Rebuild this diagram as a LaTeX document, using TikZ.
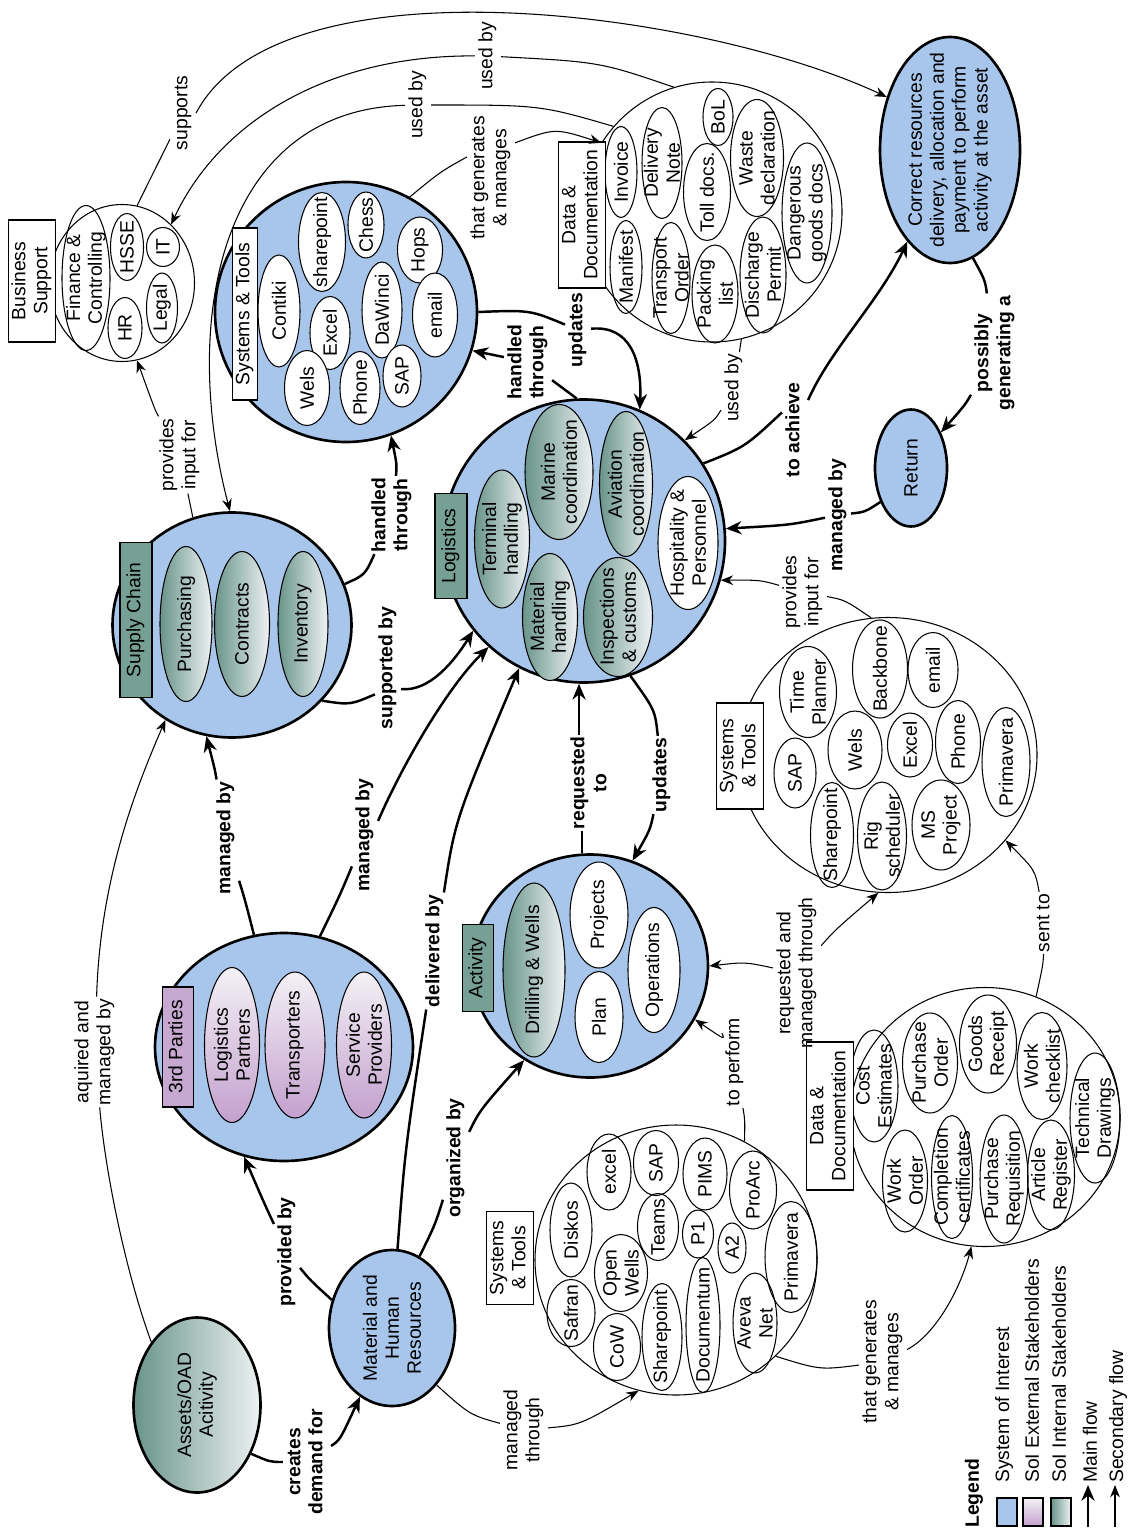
\documentclass[tikz,border=0pt]{standalone}
\usepackage{fontspec}
\setmainfont{Liberation Sans}
\usepackage{graphicx}
\usetikzlibrary{shapes.geometric,arrows.meta}

\definecolor{blueF}{RGB}{168,198,236}
\definecolor{gdark}{RGB}{104,148,138}
\definecolor{glight}{RGB}{238,242,242}
\definecolor{plight}{RGB}{243,241,245}
\definecolor{pdark}{RGB}{196,160,206}
\definecolor{gtag}{RGB}{118,160,148}
\definecolor{ptag}{RGB}{198,168,208}

\newcommand\pxu{0.02cm}
\newcommand\rtx[1]{\rotatebox{90}{\begin{tabular}{@{}c@{}}#1\end{tabular}}}
% container shape without text: name, x, y, width, height, style
\newcommand\hold[6]{\node[#6,minimum width=#4*\pxu,minimum height=#5*\pxu] (#1) at (#2,#3) {};}
% oval with upright-reading (rotated) text
\newcommand\bub[7]{\node[#6,minimum width=#4*\pxu,minimum height=#5*\pxu] (#1) at (#2,#3) {};
  \node[tx] (#1-t) at (#1.center) {#7};}
% title box
\newcommand\tagx[7]{\node[#6,minimum width=#4*\pxu,minimum height=#5*\pxu] (#1) at (#2,#3) {\rtx{#7}};}
% connector label
\newcommand\clab[5]{\node[#4] (#1) at (#2,#3) {\rtx{#5}};}

\tikzset{
  main/.style={ellipse, draw, line width=1.5pt, fill=blueF, inner sep=0pt},
  mainG/.style={ellipse, draw, line width=1.5pt, left color=gdark, right color=glight, inner sep=0pt},
  cont/.style={ellipse, draw, line width=0.6pt, fill=white, inner sep=0pt},
  sub/.style={ellipse, draw, line width=0.6pt, inner sep=0pt},
  subg/.style={sub, left color=gdark, right color=glight},
  subp/.style={sub, top color=plight, bottom color=pdark},
  subw/.style={sub, fill=white},
  subo/.style={sub},
  tx/.style={rotate=90, align=center, inner sep=0pt},
  tag/.style={draw, line width=0.8pt, fill=white, inner sep=1pt},
  tagg/.style={tag, fill=gtag},
  tagp/.style={tag, fill=ptag},
  lab/.style={inner sep=1pt},
  labb/.style={inner sep=1pt, font=\fontsize{11}{12.5}\selectfont\bfseries},
  thn/.style={line width=0.6pt},
  thk/.style={line width=1.4pt},
  thnarr/.style={thn, -{Stealth[length=7pt,width=5.5pt]}},
  thkarr/.style={thk, -{Stealth[length=9pt,width=7.5pt]}},
}

\begin{document}
\begin{tikzpicture}[x=0.02cm, y=-0.02cm, font=\fontsize{11}{12.5}\selectfont]
\path[fill=white] (0,0) rectangle (1130,1530);
\useasboundingbox (0,0) rectangle (1130,1530);

% ---------- Business Support ----------
\hold{bs}{122}{283}{145}{157}{cont}
\bub{fc}{86}{278}{48}{145}{subo}{Finance \&\\Controlling}
\bub{hsse}{127}{247}{33}{67}{subo}{HSSE}
\bub{hr}{125}{328}{34}{61}{subo}{HR}
\bub{it}{163}{247}{33}{39}{subo}{IT}
\bub{legal}{162}{308}{31}{70}{subo}{Legal}
\tagx{bsl}{32}{281}{39}{122}{tag}{Business\\Support}

% ---------- Systems & Tools (logistics) ----------
\hold{stb}{346}{312}{262}{260}{main}
\bub{contiki}{279}{311}{42}{112}{subw}{Contiki}
\bub{shp}{322}{242}{47}{99}{subw}{sharepoint}
\bub{excelA}{330}{333}{40}{73}{subw}{Excel}
\bub{chess}{366}{225}{36}{66}{subw}{Chess}
\bub{welsA}{307}{388}{45}{75}{subw}{Wels}
\bub{phoneA}{360}{388}{40}{73}{subw}{Phone}
\bub{dawinci}{382}{310}{40}{96}{subw}{DaWinci}
\bub{hops}{420}{250}{45}{66}{subw}{Hops}
\bub{emailA}{435}{315}{45}{84}{subw}{email}
\bub{sapA}{402}{376}{38}{62}{subw}{SAP}
\tagx{stbl}{245}{314}{25}{172}{tag}{Systems \& Tools}

% ---------- Data & Documentation (logistics) ----------
\hold{dd1}{712}{212}{260}{260}{cont}
\bub{invoice}{621}{172}{32}{91}{subo}{Invoice}
\bub{manifest}{626}{267}{32}{93}{subo}{Manifest}
\bub{delnote}{662}{163}{40}{111}{subo}{Delivery\\Note}
\bub{transord}{671}{278}{38}{111}{subo}{Transport\\Order}
\bub{toll}{707}{192}{47}{97}{subo}{Toll docs.}
\bub{bol}{718}{117}{30}{57}{subo}{BoL}
\bub{packing}{715}{294}{46}{98}{subo}{Packing\\list}
\bub{waste}{757}{158}{53}{117}{subo}{Waste\\declaration}
\bub{discharge}{763}{275}{46}{116}{subo}{Discharge\\Permit}
\bub{dgd}{807}{213}{50}{140}{subo}{Dangerous\\goods docs}
\tagx{ddAl}{582}{215}{40}{146}{tag}{Data \&\\Documentation}

% ---------- Goal and return ----------
\bub{cr}{950}{150}{140}{226}{main}{Correct resources\\delivery, allocation and\\payment to perform\\activity at the asset}
\bub{ret}{911}{468}{72}{117}{main}{Return}

% ---------- Supply Chain ----------
\hold{sc}{232}{625}{239}{225}{main}
\bub{purch}{186}{624}{52}{155}{subg}{Purchasing}
\bub{contr}{242}{624}{55}{145}{subg}{Contracts}
\bub{inv}{303}{624}{50}{145}{subg}{Inventory}
\tagx{scl}{136}{620}{32}{155}{tagg}{Supply Chain}

% ---------- Logistics ----------
\hold{log}{584}{541}{282}{283}{main}
\bub{term}{502}{539}{55}{138}{subg}{Terminal\\handling}
\bub{marine}{559}{472}{68}{135}{subg}{Marine\\coordination}
\bub{mat}{550}{617}{55}{127}{subg}{Material\\handling}
\bub{avi}{626}{484}{53}{145}{subg}{Aviation\\coordination}
\bub{insp}{618}{617}{69}{119}{subg}{Inspections\\\& customs}
\bub{hosp}{688}{543}{60}{133}{subw}{Hospitality \&\\Personnel}
\tagx{logl}{451}{546}{32}{105}{tagg}{Logistics}

% ---------- 3rd Parties ----------
\hold{tp}{284}{1047}{258}{228}{main}
\bub{lp}{232}{1045}{55}{155}{subp}{Logistics\\Partners}
\bub{trans}{295}{1045}{60}{146}{subp}{Transporters}
\bub{sp}{364}{1045}{55}{146}{subp}{Service\\Providers}
\tagx{tpl}{178}{1047}{31}{120}{tagp}{3rd Parties}

% ---------- Activity ----------
\hold{act}{590}{966}{236}{223}{main}
\bub{dw}{534}{970}{62}{174}{subg}{Drilling \& Wells}
\bub{proj}{599}{915}{58}{106}{subw}{Projects}
\bub{plan}{599}{1017}{48}{91}{subw}{Plan}
\bub{ops}{654}{970}{52}{125}{subw}{Operations}
\tagx{actl}{478}{968}{31}{87}{tagg}{Activity}

% ---------- Systems & Tools (planning) ----------
\hold{stw}{888}{755}{298}{275}{cont}
\bub{sapB}{795}{773}{42}{70}{subo}{SAP}
\bub{tplan}{808}{692}{57}{91}{subo}{Time\\Planner}
\bub{welsB}{855}{750}{54}{78}{subo}{Wels}
\bub{backb}{880}{669}{55}{98}{subo}{Backbone}
\bub{shpB}{832}{835}{43}{105}{subo}{Sharepoint}
\bub{rig}{882}{836}{49}{108}{subo}{Rig\\scheduler}
\bub{excelB}{910}{745}{45}{64}{subo}{Excel}
\bub{emailB}{933}{670}{50}{75}{subo}{email}
\bub{msp}{941}{825}{58}{90}{subo}{MS\\Project}
\bub{phoneB}{958}{742}{45}{83}{subo}{Phone}
\bub{primA}{1006}{762}{48}{109}{subo}{Primavera}
\tagx{stwl}{740}{756}{44}{106}{tag}{Systems\\\& Tools}

% ---------- Data & Documentation (planning) ----------
\hold{dd2}{985}{1117}{270}{259}{cont}
\bub{cost}{874}{1086}{48}{112}{subo}{Cost\\Estimates}
\bub{po}{930}{1063}{55}{100}{subo}{Purchase\\Order}
\bub{gr}{988}{1044}{57}{98}{subo}{Goods\\Receipt}
\bub{wc}{1042}{1066}{50}{107}{subo}{Work\\checklist}
\bub{td}{1095}{1118}{50}{130}{subo}{Technical\\Drawings}
\bub{wo}{905}{1181}{45}{102}{subo}{Work\\Order}
\bub{cc}{952}{1177}{41}{123}{subo}{Completion\\certificates}
\bub{pr}{1004}{1179}{48}{128}{subo}{Purchase\\Requisition}
\bub{ar}{1051}{1175}{47}{110}{subo}{Article\\Register}
\tagx{ddBl}{830}{1116}{40}{148}{tag}{Data \&\\Documentation}

% ---------- Origin of demand ----------
\bub{ast}{197}{1405}{127}{175}{mainG}{Assets/OAD\\Acitivity}
\bub{mhr}{392}{1328}{126}{156}{main}{Material and\\Human\\Resources}

% ---------- Systems & Tools (activity) ----------
\hold{stbot}{676}{1260}{282}{270}{cont}
\bub{safran}{571}{1313}{48}{67}{subo}{Safran}
\bub{diskos}{571}{1230}{42}{94}{subo}{Diskos}
\bub{excelC}{609}{1172}{44}{76}{subo}{excel}
\bub{cow}{617}{1347}{47}{67}{subo}{CoW}
\bub{openw}{621}{1273}{53}{77}{subo}{Open\\Wells}
\bub{sapC}{656}{1163}{45}{65}{subo}{SAP}
\bub{teams}{658}{1227}{41}{67}{subo}{Teams}
\bub{shpC}{662}{1337}{40}{107}{subo}{Sharepoint}
\bub{pone}{698}{1234}{31}{48}{subo}{P1}
\bub{pims}{705}{1174}{44}{72}{subo}{PIMS}
\bub{docum}{703}{1325}{34}{135}{subo}{Documentum}
\bub{atwo}{732}{1248}{28}{50}{subo}{A2}
\bub{proarc}{753}{1190}{47}{78}{subo}{ProArc}
\bub{aveva}{755}{1323}{44}{100}{subo}{Aveva\\Net}
\bub{primB}{791}{1257}{52}{111}{subo}{Primavera}
\tagx{stbotl}{510}{1258}{46}{93}{tag}{Systems\\\& Tools}

% ---------- connector labels ----------
\clab{l1}{183}{113}{lab}{supports}
\clab{l2}{488}{56}{lab}{used by}
\clab{l3}{418}{105}{lab}{used by}
\clab{l4}{491}{178}{lab}{that generates\\\& manages}
\clab{l5}{578}{330}{labb}{updates}
\clab{l6}{528}{362}{labb}{handled\\through}
\clab{l7}{734}{388}{lab}{used by}
\clab{l8}{180}{455}{lab}{provides\\input for}
\clab{l9}{392}{515}{labb}{handled\\through}
\clab{l10}{388}{668}{labb}{supported by}
\clab{l11}{795}{430}{labb}{to achieve}
\clab{l12}{995}{353}{labb}{possibly\\generating a}
\clab{l13}{838}{515}{labb}{managed by}
\clab{l14}{803}{592}{lab}{provides\\input for}
\clab{l15}{226}{838}{labb}{managed by}
\clab{l16}{365}{835}{labb}{managed by}
\clab{l17}{95}{1052}{lab}{aquired and\\managed by}
\clab{l18}{435}{951}{labb}{delivered by}
\clab{l19}{591}{783}{labb}{requested\\to}
\clab{l20}{662}{775}{labb}{updates}
\clab{l21}{797}{973}{lab}{requested and\\managed through}
\clab{l22}{735}{1062}{lab}{to perform}
\clab{l23}{456}{1158}{labb}{organized by}
\clab{l24}{287}{1252}{labb}{provided by}
\clab{l25}{307}{1462}{labb}{creates\\demand for}
\clab{l26}{524}{1430}{lab}{managed\\through}
\clab{l27}{883}{1362}{lab}{that generates\\\& manages}
\clab{l28}{1045}{923}{lab}{sent to}

% ---------- connectors ----------
\draw[thn] (bs.79) -- (l1);
\draw[thnarr] (l1.east) .. controls (280,-45) and (700,10) .. (cr.140);

\draw[thn] (dd1.107) .. controls (600,62) .. (l2);
\draw[thnarr] (l2) .. controls (330,55) and (220,120) .. (bs.50);

\draw[thn] (dd1.139) .. controls (540,105) .. (l3);
\draw[thnarr] (l3) .. controls (220,110) and (180,320) .. (sc.91);

\draw[thn] (stb.61) .. controls (440,172) .. ([yshift=12pt]l4.west);
\draw[thnarr] ([yshift=20pt]l4.east) .. controls (555,128) .. (dd1.148);

\draw[thk] (stb.0) .. controls (530,310) .. (l5);
\draw[thkarr] (l5) .. controls (630,325) and (642,360) .. (log.67);

\draw[thk] (log.93) .. controls (565,390) .. (l6);
\draw[thkarr] (l6) -- (stb.343);

\draw[thn] (dd1.283) -- (l7);
\draw[thnarr] (l7) .. controls (715,420) .. (log.45);

\draw[thn] (sc.110) -- (l8);
\draw[thnarr] (l8) .. controls (155,410) .. (bs.281);

\draw[thk] (sc.20) .. controls (365,575) .. (l9);
\draw[thkarr] (l9) .. controls (397,465) .. (stb.290);

\draw[thk] (sc.320) .. controls (350,705) .. ([yshift=-15pt]l10.west);
\draw[thkarr] ([yshift=-12pt]l10.east) .. controls (430,692) and (455,660) .. (log.219);

\draw[thk] (log.33) .. controls (745,447) .. ([yshift=10pt]l11.west);
\draw[thkarr] (l11) .. controls (830,350) and (880,300) .. (cr.245);

\draw[thk] (cr.282) .. controls (985,280) .. (l12);
\draw[thkarr] (l12) .. controls (965,405) .. (ret.50);

\draw[thk] (ret.228) .. controls (865,512) .. (l13);
\draw[thkarr] (l13) .. controls (790,525) .. (log.5);

\draw[thn] (stw.97) .. controls (845,600) .. (l14);
\draw[thnarr] (l14) .. controls (760,580) .. (log.344);

\draw[thk] (tp.105) .. controls (245,900) .. (l15);
\draw[thkarr] (l15) .. controls (215,770) .. (sc.257);

\draw[thk] (tp.72) .. controls (340,895) .. (l16);
\draw[thkarr] ([yshift=8pt]l16.east) .. controls (400,770) and (445,690) .. (log.228);

\draw[thn] (ast.126) .. controls (125,1270) and (105,1170) .. (l17);
\draw[thnarr] (l17) .. controls (100,880) and (135,790) .. (sc.235);

\draw[thk] (mhr.86) .. controls (405,1150) .. (l18);
\draw[thkarr] (l18) .. controls (455,820) .. (log.243);

\draw[thk] (act.94) -- (act.94 |- l19.south);
\draw[thkarr] (log.268 |- l19.north) -- (log.268);

\draw[thk] (log.289) .. controls (655,710) .. (l20);
\draw[thkarr] (l20) .. controls (650,830) .. (act.68);

\draw[thnarr] (l21) .. controls (745,962) .. (act.0);
\draw[thnarr] (l21) .. controls (835,930) .. (stw.266);

\draw[thn] (stbot.60) .. controls (745,1120) .. (l22);
\draw[thnarr] (l22) .. controls (725,1040) .. (act.333);

\draw[thk] (mhr.69) .. controls (435,1225) .. (l23);
\draw[thkarr] (l23) .. controls (480,1110) .. (act.235);

\draw[thk] (mhr.155) .. controls (310,1280) .. (l24);
\draw[thkarr] (l24) .. controls (265,1205) .. (tp.250);

\draw[thk] (ast.318) .. controls (270,1462) .. (l25);
\draw[thkarr] (l25) .. controls (340,1440) .. (mhr.245);

\draw[thn] (mhr.308) .. controls (470,1415) .. (l26);
\draw[thnarr] (l26) .. controls (580,1425) .. (stbot.254);

\draw[thn] (stbot.316) .. controls (820,1370) .. (l27);
\draw[thnarr] (l27) .. controls (935,1335) and (960,1290) .. (dd2.264);

\draw[thn] (dd2.67) .. controls (1043,965) .. (l28);
\draw[thnarr] (l28) .. controls (1035,870) .. (stw.324);

% ---------- legend ----------
\node[anchor=south, inner sep=0pt, font=\fontsize{11}{12.5}\selectfont\bfseries] (lgt) at (974,1528) {\rotatebox{90}{Legend}};
\node[draw, line width=0.8pt, fill=blueF, minimum width=20*\pxu, minimum height=28*\pxu, inner sep=0pt] (lgA) at (1007,1512) {};
\node[draw, line width=0.8pt, top color=plight, bottom color=pdark, minimum width=20*\pxu, minimum height=28*\pxu, inner sep=0pt] (lgB) at (1033,1512) {};
\node[draw, line width=0.8pt, left color=gdark, right color=glight, minimum width=20*\pxu, minimum height=28*\pxu, inner sep=0pt] (lgC) at (1061,1512) {};
\coordinate (lgM1) at (1088,1527);
\coordinate (lgM2) at (1088,1485);
\draw[thkarr] (lgM1) -- (lgM2);
\coordinate (lgS1) at (1115,1527);
\coordinate (lgS2) at (1115,1485);
\draw[thnarr] (lgS1) -- (lgS2);
\node[anchor=south, inner sep=0pt] (lgtA) at (1004,1483) {\rotatebox{90}{System of Interest}};
\node[anchor=south, inner sep=0pt] (lgtB) at (1032,1483) {\rotatebox{90}{SoI External Stakeholders}};
\node[anchor=south, inner sep=0pt] (lgtC) at (1059,1483) {\rotatebox{90}{SoI Internal Stakeholders}};
\node[anchor=south, inner sep=0pt] (lgtD) at (1090,1483) {\rotatebox{90}{Main flow}};
\node[anchor=south, inner sep=0pt] (lgtE) at (1118,1483) {\rotatebox{90}{Secondary flow}};

\end{tikzpicture}
\end{document}
